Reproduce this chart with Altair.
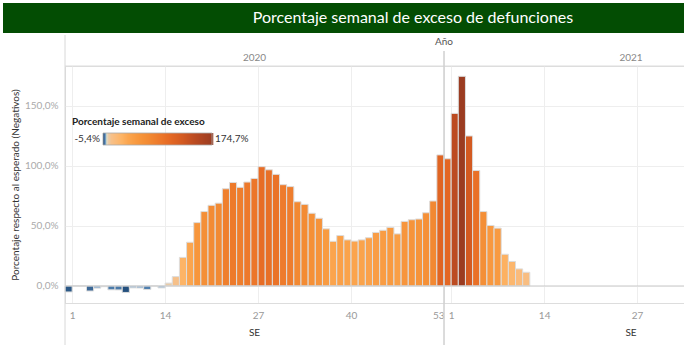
import altair as alt
import numpy as np
import pandas as pd

# ---- data ----
weeks_2020 = list(range(1, 54))
pct_2020 = [-5.0, 0.0, 0.0, -4.2, -1.8, -0.6, -3.2, -3.3, -5.4, -1.6,
            -1.7, -3.0, 0.0, -1.6, 2.4, 7.8, 23.8, 36.4, 52.8, 62.0,
            67.2, 69.0, 81.0, 86.2, 82.2, 86.6, 89.6, 99.4, 96.8, 93.0,
            84.4, 82.8, 70.2, 68.0, 60.6, 56.4, 47.6, 37.2, 42.0, 38.4,
            37.4, 38.4, 40.2, 44.6, 46.4, 48.8, 43.4, 53.8, 55.2, 55.8,
            61.0, 70.8, 109.2]
weeks_2021 = list(range(1, 13))
pct_2021 = [106.0, 143.8, 174.7, 125.0, 96.2, 62.0, 50.4, 48.2, 26.4, 20.4, 14.2, 11.4]

x_ticks = [1, 14, 27, 40, 53]          # per-year week ticks
y_ticks = [0, 50, 100, 150]
years = ["2020", "2021"]
legend_min, legend_max = -5.4, 174.7

title_txt = "Porcentaje semanal de exceso de defunciones"
ytitle = "Porcentaje respecto al esperado (Negativos)"
legend_title = "Porcentaje semanal de exceso"

# ---- table ----
n20 = len(weeks_2020)
rows = []
for w, p in zip(weeks_2020, pct_2020):
    rows.append({"year": "2020", "week": w, "idx": w, "pct": p})
for w, p in zip(weeks_2021, pct_2021):
    rows.append({"year": "2021", "week": w, "idx": n20 + w, "pct": p})
df = pd.DataFrame(rows)
df["x0"] = df["idx"] - 1

tick_vals = x_ticks + [n20 + t for t in x_ticks[:3]]

W, H = 619, 237
XMAX = 86.56
FONT = "Lato"

cscale = alt.Scale(
    domain=[-5.4, -3, -1.5, 0, 2.2, 8, 24, 36, 53, 70, 90, 105, 125, 144, 174.7],
    range=["#24507e", "#4f7fae", "#8cb0d2", "#e4ddd4", "#e8ccaa", "#f7c088",
           "#fdb466", "#fba54e", "#f7963c", "#f28932", "#ec762a", "#e46824",
           "#d35a21", "#bc4b21", "#9b3c21"],
)
xscale = alt.Scale(domain=[0, XMAX], nice=False, zero=False)
yscale = alt.Scale(domain=[-14.2, 183.3], nice=False, zero=False)

one = alt.Data(values=[{}])

bars = alt.Chart(df).mark_bar(stroke="#dddddd", strokeWidth=1).encode(
    x=alt.X("x0:Q", scale=xscale,
            axis=alt.Axis(values=tick_vals, title=None, grid=True, gridColor="#eeeeee",
                          ticks=False, domain=True, domainColor="#dddddd",
                          labelExpr=f"datum.value > {n20} ? '' + (datum.value - {n20}) : '' + datum.value",
                          labelAlign=alt.ConditionalAxisLabelAlign(
                              condition={"test": f"datum.value == {n20}", "value": "right"},
                              value="center"),
                          labelColor="#999999", labelFontSize=10, labelFont=FONT,
                          labelPadding=7)),
    x2="idx:Q",
    y=alt.Y("pct:Q", scale=yscale,
            axis=alt.Axis(values=y_ticks, title=ytitle, grid=True, gridColor="#eeeeee",
                          ticks=False, domain=False,
                          labelExpr="replace(format(datum.value, '.1f'), '.', ',') + '%'",
                          labelColor="#aaaaaa", labelFontSize=10, labelFont=FONT,
                          labelPadding=7, titleFont=FONT, titleFontSize=10,
                          titleFontWeight="normal", titleColor="#333333",
                          titleX=-45, titleY=H / 2)),
    y2=alt.datum(0),
    color=alt.Color("pct:Q", scale=cscale, legend=None),
)

# zero line
zero = alt.Chart(one).mark_rule(color="#cccccc", strokeWidth=1).encode(
    y=alt.datum(0), x=alt.value(0), x2=alt.value(W))

# frame lines
left_border = alt.Chart(one).mark_rule(color="#d8d8d8").encode(
    x=alt.value(0), y=alt.value(-31), y2=alt.value(H + 42))
top_border = alt.Chart(one).mark_rule(color="#dddddd").encode(
    x=alt.value(0), x2=alt.value(W), y=alt.value(0))
sep = alt.Chart(one).mark_rule(color="#d0d0d0", strokeWidth=1.5).encode(
    x=alt.datum(n20), y=alt.value(-15), y2=alt.value(H + 42))

# title bar
title_bar = alt.Chart(one).mark_rect(color="#034d03").encode(
    x=alt.value(-62), x2=alt.value(W), y=alt.value(-63), y2=alt.value(-33))
title_text = alt.Chart(one).mark_text(text=title_txt, color="white", font=FONT,
                                      fontSize=16, align="center", baseline="middle").encode(
    x=alt.value(348), y=alt.value(-48))

# headers
ano = alt.Chart(one).mark_text(text="Año", color="#555555", font=FONT, fontSize=10,
                               align="center", baseline="middle").encode(
    x=alt.value(379), y=alt.value(-24))
year_df = pd.DataFrame({"year": years, "px": [189.5, 566.0]})
year_txt = alt.Chart(year_df).mark_text(color="#888888", font=FONT, fontSize=10,
                                        align="center", baseline="middle").encode(
    x=alt.X("px:Q", scale=None), y=alt.value(-8), text="year:N")
se_txt = alt.Chart(year_df).mark_text(text="SE", color="#333333", font=FONT, fontSize=10,
                                      align="center", baseline="middle").encode(
    x=alt.X("px:Q", scale=None), y=alt.value(267))

# legend (manual ramp)
ramp = pd.DataFrame({"pct": np.linspace(legend_min, legend_max, 110)})
L0, L1 = 38.0, 147.0
ramp_chart = alt.Chart(ramp).transform_calculate(
    px=f"{L0} + (datum.pct - ({legend_min})) / ({legend_max} - ({legend_min})) * {L1 - L0}",
    px2=f"{L0} + (datum.pct - ({legend_min})) / ({legend_max} - ({legend_min})) * {L1 - L0} + 1.3",
).mark_rect().encode(
    x=alt.X("px:Q", scale=None), x2="px2:Q",
    y=alt.value(67), y2=alt.value(79),
    color=alt.Color("pct:Q", scale=cscale, legend=None),
)
ramp_border = alt.Chart(one).mark_rect(fill=None, stroke="#aaaaaa", strokeWidth=0.8).encode(
    x=alt.value(L0), x2=alt.value(L1), y=alt.value(67), y2=alt.value(79))
leg_title = alt.Chart(one).mark_text(text=legend_title, color="#222222", font=FONT,
                                     fontSize=10, fontWeight="bold", align="left",
                                     baseline="middle").encode(
    x=alt.value(7), y=alt.value(56))
lab_min = alt.Chart(one).mark_text(
    text=f"{legend_min:.1f}".replace(".", ",") + "%", color="#333333", font=FONT,
    fontSize=10, align="right", baseline="middle").encode(x=alt.value(L0 - 3), y=alt.value(73))
lab_max = alt.Chart(one).mark_text(
    text=f"{legend_max:.1f}".replace(".", ",") + "%", color="#333333", font=FONT,
    fontSize=10, align="left", baseline="middle").encode(x=alt.value(L1 + 3), y=alt.value(73))

chart = alt.layer(
    title_bar, title_text, ano, year_txt, top_border, bars, zero, left_border, sep,
    se_txt, ramp_chart, ramp_border, leg_title, lab_min, lab_max,
).properties(
    width=W, height=H,
    autosize=alt.AutoSizeParams(type="none"),
    padding={"left": 65, "top": 66, "right": 0, "bottom": 42},
).configure_view(stroke=None).configure(background="white")

chart.save("out.html", embed_options={"renderer": "svg", "actions": False})
